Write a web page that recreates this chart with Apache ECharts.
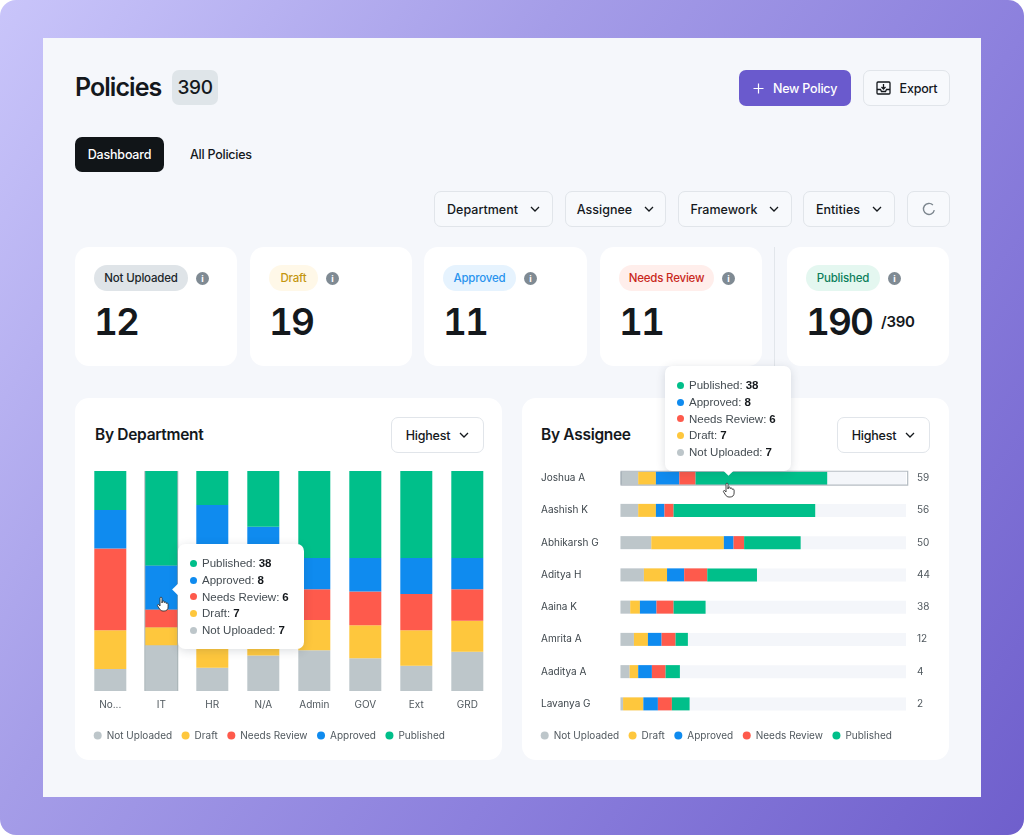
<!DOCTYPE html>
<html>
<head>
<meta charset="utf-8">
<script src="https://cdn.jsdelivr.net/npm/echarts@6/dist/echarts.min.js"></script>
<style>
* { box-sizing: border-box; }
html, body { margin: 0; width: 1024px; height: 835px; overflow: hidden; background: #fff; font-family: Inter, "Noto Sans", sans-serif; color: #14181c; }
#frame { position: absolute; inset: 0; border-radius: 16px; background: linear-gradient(125deg, #c9c5fa 0%, #a59de8 35%, #8c80dd 65%, #6f5fcc 100%); }
#panel { position: absolute; left: 43px; top: 38px; width: 938px; height: 759px; background: #f5f7fb; }
.abs { position: absolute; white-space: nowrap; }
.btn { position: absolute; height: 36px; border: 1.5px solid #e1e5ea; border-radius: 7px; background: #f7f9fc; font-size: 12.5px; font-weight: 500; display: flex; align-items: center; justify-content: center; gap: 9px; letter-spacing: -0.2px; }
.filter { letter-spacing: 0; gap: 12px; }
.card { position: absolute; background: #fff; border-radius: 14px; }
.pill { position: absolute; height: 26px; border-radius: 13px; font-size: 11.5px; font-weight: 500; display: flex; align-items: center; justify-content: center; letter-spacing: -0.2px; }
.info { position: absolute; width: 13px; height: 13px; border-radius: 50%; background: #7f8a93; color: #fff; font-size: 9px; font-weight: 700; line-height: 13px; text-align: center; }
.num { position: absolute; font-size: 37px; font-weight: 600; line-height: 44px; letter-spacing: -1.9px; font-feature-settings: 'tnum' 1; }
.chart { position: absolute; }
.tip-row { display: flex; align-items: center; height: 16.8px; font-size: 11.5px; color: #444c52; white-space: nowrap; }
.tip-dot { width: 7px; height: 7px; border-radius: 50%; margin-right: 5px; }
.tip-row b { color: #14181c; font-weight: 700; margin-left: 3px; }
.tip-arrow { position: absolute; width: 9px; height: 9px; background: #fff; transform: rotate(45deg); }
.hand { position: absolute; z-index: 50; }
</style>
</head>
<body>
<div id="frame"></div>
<div id="panel"></div>

<div class="abs" style="left:75px;top:70px;font-size:25px;font-weight:600;line-height:35px;letter-spacing:-0.95px">Policies</div>
<div class="abs" style="left:172px;top:70px;width:46px;height:35px;background:#dfe5e9;border-radius:7px;font-size:19px;font-weight:500;line-height:35px;text-align:center;letter-spacing:-0.3px">390</div>

<div class="btn" style="left:739px;top:70px;width:112px;background:#6a5acd;border:none;color:#fff">
  <svg width="11" height="11" viewBox="0 0 11 11"><path d="M5.5 0.5v10M0.5 5.5h10" stroke="#fff" stroke-width="1.2"/></svg>New Policy</div>
<div class="btn" style="left:863px;top:70px;width:87px">
  <svg width="15" height="14" viewBox="0 0 15 14" fill="none" stroke="#14181c" stroke-width="1.3"><rect x="1" y="1" width="13" height="12" rx="1"/><path d="M1 8.500h3.500l1 2h4l1-2H14M7.500 3v5M5.500 6l2 2 2-2"/></svg>Export</div>

<div class="abs" style="left:75px;top:137px;width:89px;height:35px;background:#111518;border-radius:7px;color:#fff;font-size:12.5px;font-weight:500;line-height:35px;text-align:center;letter-spacing:-0.2px">Dashboard</div>
<div class="abs" style="left:190px;top:137px;font-size:12.5px;font-weight:500;line-height:35px;letter-spacing:-0.25px">All Policies</div>

<div id="filters"></div>
<div class="btn" style="left:907px;top:191px;width:43px">
  <svg width="14" height="14" viewBox="0 0 14 14" fill="none" stroke="#7c868e" stroke-width="1.4"><path d="M12.300 8.200A5.500 5.500 0 1 1 10.900 3.100"/></svg></div>

<div class="abs" style="left:774px;top:247px;width:1px;height:128px;background:#e2e6eb"></div>
<div id="stats"></div>

<div class="card" style="left:75px;top:398px;width:427px;height:362px"></div>
<div class="card" style="left:522px;top:398px;width:427px;height:362px"></div>
<div class="abs" style="left:95px;top:425px;font-size:15.5px;font-weight:600;line-height:20px;letter-spacing:-0.3px">By Department</div>
<div class="abs" style="left:541px;top:425px;font-size:15.5px;font-weight:600;line-height:20px;letter-spacing:-0.3px">By Assignee</div>
<div class="btn" style="left:391px;top:417px;width:93px;background:#fff">Highest<svg width="10" height="6" viewBox="0 0 10 6" fill="none" stroke="#14181c" stroke-width="1.3"><path d="M1 1l4 4 4-4"/></svg></div>
<div class="btn" style="left:837px;top:417px;width:93px;background:#fff">Highest<svg width="10" height="6" viewBox="0 0 10 6" fill="none" stroke="#14181c" stroke-width="1.3"><path d="M1 1l4 4 4-4"/></svg></div>

<div id="deptChart" class="chart" style="left:75px;top:398px;width:427px;height:362px"></div>
<div id="assigneeChart" class="chart" style="left:522px;top:398px;width:427px;height:362px"></div>

<svg class="hand" style="left:156px;top:596px" width="14" height="16" viewBox="0 0 14 16"><path d="M4 8V2.200a1 1 0 0 1 2 0V7l.2-1.200a1 1 0 0 1 2 .2l.1.6a1 1 0 0 1 1.900.3l.1.6a1 1 0 0 1 1.800.5V11c0 2.500-1.500 4-4 4H7c-1.600 0-2.600-.8-3.400-2L1.500 9.800c-.5-.9.700-1.800 1.500-1L4 10z" fill="#fff" stroke="#333" stroke-width="0.9"/></svg>
<svg class="hand" style="left:722px;top:482px" width="14" height="16" viewBox="0 0 14 16"><path d="M4 8V2.200a1 1 0 0 1 2 0V7l.2-1.200a1 1 0 0 1 2 .2l.1.6a1 1 0 0 1 1.900.3l.1.6a1 1 0 0 1 1.800.5V11c0 2.500-1.500 4-4 4H7c-1.600 0-2.600-.8-3.400-2L1.500 9.800c-.5-.9.700-1.800 1.500-1L4 10z" fill="#fff" stroke="#333" stroke-width="0.9"/></svg>

<script>
// valeurs, en % de la hauteur / largeur de la piste
const departments = ['No...', 'IT', 'HR', 'N/A', 'Admin', 'GOV', 'Ext', 'GRD'];
const deptNotUploaded = [10.0, 20.8, 10.6, 16.1, 18.5, 14.9, 11.5, 17.8];
const deptDraft = [17.6, 8.2, 21.0, 14.0, 13.8, 15.0, 16.1, 14.1];
const deptNeedsReview = [37.2, 8.0, 22.0, 20.0, 14.0, 15.3, 16.5, 14.3];
const deptApproved = [17.5, 20.0, 30.9, 24.6, 14.1, 15.2, 16.3, 14.2];
const deptPublished = [17.7, 43.0, 15.5, 25.3, 39.6, 39.6, 39.6, 39.6];

const assignees = ['Joshua A', 'Aashish K', 'Abhikarsh G', 'Aditya H', 'Aaina K', 'Amrita A', 'Aaditya A', 'Lavanya G'];
const assigneeTotals = [59, 56, 50, 44, 38, 12, 4, 2];
const asgNotUploaded = [6.2, 6.2, 10.8, 8.2, 3.4, 4.7, 3.2, 0.9];
const asgDraft = [6.2, 6.2, 25.4, 8.1, 3.4, 4.9, 3.0, 7.1];
const asgApproved = [8.2, 3.0, 3.4, 6.0, 5.8, 4.8, 4.8, 5.1];
const asgNeedsReview = [5.7, 3.2, 3.7, 8.1, 6.0, 4.9, 4.8, 4.9];
const asgPublished = [46.1, 49.6, 19.8, 17.4, 11.2, 4.3, 5.0, 6.2];

const tipLabels = ['Published', 'Approved', 'Needs Review', 'Draft', 'Not Uploaded'];
const tipValues = [38, 8, 6, 7, 7];

const filterNames = ['Department', 'Assignee', 'Framework', 'Entities'];
const filterLefts = [434, 565, 678, 803];
const filterWidths = [119, 101, 114, 92];

const statNames = ['Not Uploaded', 'Draft', 'Approved', 'Needs Review', 'Published'];
const statValues = ['12', '19', '11', '11', '190'];
const statLefts = [75, 250, 424, 600, 787];
const statWidths = [162, 162, 163, 162, 162];
const pillWidths = [94, 49, 73, 95, 74];
const pillBg = ['#dfe4e8', '#fff8e8', '#e6f3fe', '#ffeeeb', '#e4f7f0'];
const pillText = ['#20262b', '#c4960f', '#2a93ee', '#c9281c', '#0c7f5c'];

const colors = {
    'Not Uploaded': '#bdc6ca',
    'Draft': '#fec73d',
    'Needs Review': '#fe5a4c',
    'Approved': '#0f8bef',
    'Published': '#00bf8a'
};

// boutons de filtre
document.getElementById('filters').innerHTML = filterNames.map((name, i) =>
    `<div class="btn filter" style="left:${filterLefts[i]}px;top:191px;width:${filterWidths[i]}px">${name}<svg width="10" height="6" viewBox="0 0 10 6" fill="none" stroke="#14181c" stroke-width="1.3"><path d="M1 1l4 4 4-4"/></svg></div>`
).join('');

// cartes de statut
document.getElementById('stats').innerHTML = statNames.map((name, i) => {
    const x = statLefts[i];
    const suffix = name === 'Published' ? `<span class="abs" style="left:${x + 94}px;top:311px;font-size:15px;font-weight:600;line-height:22px;letter-spacing:-0.3px">/390</span>` : '';
    return `<div class="card" style="left:${x}px;top:247px;width:${statWidths[i]}px;height:119px"></div>
        <div class="pill" style="left:${x + 19}px;top:265px;width:${pillWidths[i]}px;background:${pillBg[i]};color:${pillText[i]}">${name}</div>
        <div class="info" style="left:${x + 19 + pillWidths[i] + 8}px;top:272px">i</div>
        <div class="num" style="left:${x + 19}px;top:300px">${statValues[i]}</div>${suffix}`;
}).join('');

function tipHtml(arrow) {
    const rows = tipLabels.map((label, i) =>
        `<div class="tip-row"><span class="tip-dot" style="background:${colors[label]}"></span>${label}:<b>${tipValues[i]}</b></div>`
    ).join('');
    return `<div class="tip-arrow" style="${arrow}"></div><div style="position:relative">${rows}</div>`;
}

function tooltipOption(pos, arrow) {
    return {
        trigger: 'item',
        alwaysShowContent: true,
        transitionDuration: 0,
        showDelay: 0,
        hideDelay: 0,
        confine: false,
        backgroundColor: '#fff',
        borderWidth: 0,
        padding: [11, 12, 9, 12],
        extraCssText: 'width:126px;height:105px;border-radius:7px;box-shadow:0 2px 10px rgba(40,50,70,.16);box-sizing:border-box;',
        position: pos,
        formatter: () => tipHtml(arrow)
    };
}

function legendOption(names) {
    return {
        data: names,
        left: 18.7,
        top: 332.5,
        padding: 0,
        icon: 'circle',
        itemWidth: 8,
        itemHeight: 8,
        itemGap: 9.5,
        selectedMode: false,
        textStyle: { fontFamily: 'Inter', fontSize: 10, color: '#50585e' }
    };
}

const deptChart = echarts.init(document.getElementById('deptChart'), null, { renderer: 'canvas' });
function deptSeries(name, values) {
    return {
        name: name,
        type: 'bar',
        stack: 'dept',
        barWidth: 32,
        z: 3,
        data: values,
        itemStyle: { color: colors[name] },
        emphasis: { disabled: true }
    };
}
deptChart.setOption({
    animation: false,
    grid: { left: 9.8, right: 9.2, top: 73, height: 220 },
    xAxis: [
        {
            type: 'category',
            data: departments,
            axisLine: { show: false },
            axisTick: { show: false },
            axisLabel: { margin: 9, interval: 0, fontFamily: 'Inter', fontSize: 10, color: '#50585e' }
        },
        { type: 'category', data: departments, show: false }
    ],
    yAxis: [
        { type: 'value', min: 0, max: 100, show: false },
        { type: 'value', min: 0, max: 100, show: false }
    ],
    legend: legendOption(['Not Uploaded', 'Draft', 'Needs Review', 'Approved', 'Published']),
    tooltip: tooltipOption([102.7, 146], 'left:-4px;top:41px'),
    series: [
        // contour de la barre survolée
        {
            name: 'hover',
            type: 'bar',
            xAxisIndex: 1,
            yAxisIndex: 1,
            barWidth: 34,
            clip: false,
            z: 2,
            data: departments.map(d => d === 'IT' ? 100 : null),
            itemStyle: { color: '#bdc6ca', borderColor: 'rgba(120,135,140,.55)', borderWidth: 1.2 },
            emphasis: { disabled: true }
        },
        deptSeries('Not Uploaded', deptNotUploaded),
        deptSeries('Draft', deptDraft),
        deptSeries('Needs Review', deptNeedsReview),
        deptSeries('Approved', deptApproved),
        deptSeries('Published', deptPublished)
    ]
});
deptChart.dispatchAction({ type: 'showTip', seriesIndex: 0, dataIndex: 1 });

const assigneeChart = echarts.init(document.getElementById('assigneeChart'), null, { renderer: 'canvas' });
function asgSeries(name, values, track) {
    return {
        name: name,
        type: 'bar',
        stack: 'asg',
        barWidth: 13,
        z: 3,
        data: values,
        showBackground: track,
        backgroundStyle: { color: '#f4f6fa' },
        itemStyle: { color: colors[name] },
        emphasis: { disabled: true }
    };
}
assigneeChart.setOption({
    animation: false,
    grid: { left: 98.5, right: 43, top: 64, height: 258 },
    xAxis: [
        { type: 'value', min: 0, max: 100, show: false },
        { type: 'value', min: 0, max: 100, show: false }
    ],
    yAxis: [
        {
            type: 'category',
            inverse: true,
            data: assignees,
            axisLine: { show: false },
            axisTick: { show: false },
            axisLabel: { margin: 79.5, align: 'left', fontFamily: 'Inter', fontSize: 10, color: '#3f474d' }
        },
        {
            type: 'category',
            inverse: true,
            position: 'right',
            data: assigneeTotals,
            axisLine: { show: false },
            axisTick: { show: false },
            axisLabel: { margin: 11, align: 'left', fontFamily: 'Inter', fontSize: 10, color: '#50585e' }
        },
        { type: 'category', inverse: true, data: assignees, show: false }
    ],
    legend: legendOption(['Not Uploaded', 'Draft', 'Approved', 'Needs Review', 'Published']),
    tooltip: tooltipOption([142.7, -32.3], 'left:58.5px;top:99px'),
    series: [
        // contour de la piste survolée, un peu plus large que la piste
        {
            name: 'hover',
            type: 'bar',
            xAxisIndex: 1,
            yAxisIndex: 2,
            barWidth: 15,
            clip: false,
            z: 4,
            data: assignees.map(a => a === 'Joshua A' ? 100.8 : null),
            itemStyle: { color: 'rgba(0,0,0,0)', borderColor: 'rgba(150,160,170,.7)', borderWidth: 1.2 },
            emphasis: { disabled: true }
        },
        asgSeries('Not Uploaded', asgNotUploaded, true),
        asgSeries('Draft', asgDraft, false),
        asgSeries('Approved', asgApproved, false),
        asgSeries('Needs Review', asgNeedsReview, false),
        asgSeries('Published', asgPublished, false)
    ]
});
assigneeChart.dispatchAction({ type: 'showTip', seriesIndex: 0, dataIndex: 0 });
</script>
</body>
</html>
